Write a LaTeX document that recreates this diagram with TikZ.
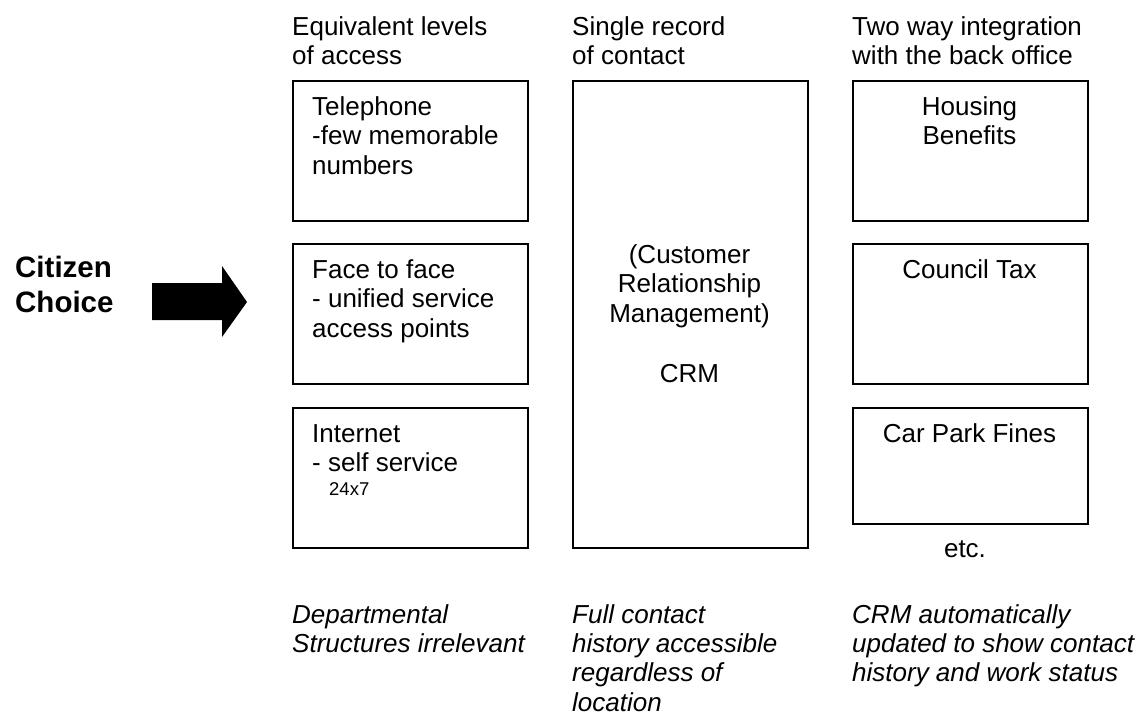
\documentclass[tikz,border=0pt]{standalone}
\usepackage{fontspec}
\setmainfont{Liberation Sans}
\begin{document}
\begin{tikzpicture}[x=1pt, y=-1pt,
  box/.style={draw=black, line width=1.5pt, inner sep=0pt, anchor=north west},
  head/.style={inner sep=0pt, anchor=base west, align=left,
    font=\fontsize{26}{29}\selectfont},
  label/.style={inner sep=0pt, anchor=base west, align=left,
    font=\fontsize{26}{29.5}\selectfont},
  clabel/.style={inner sep=0pt, anchor=base, align=center,
    font=\fontsize{26}{29.5}\selectfont},
  note/.style={inner sep=0pt, anchor=base west, align=left,
    font=\fontsize{26}{29.3}\selectfont\itshape},
  small/.style={inner sep=0pt, anchor=base west,
    font=\fontsize{18.5}{22}\selectfont},
  choice/.style={inner sep=0pt, anchor=base west, align=left,
    font=\fontsize{29.5}{35}\selectfont\bfseries}]
  \useasboundingbox (0,0) rectangle (1139,713);

  % column headings (positions give the baseline of the last line)
  \node[head] (h1) at (292,64) {Equivalent levels\\of access};
  \node[head] (h2) at (572,64) {Single record\\of contact};
  \node[head] (h3) at (852,64) {Two way integration\\with the back office};

  % access channels
  \node[box, minimum width=235pt, minimum height=140pt] (tel) at (292,80) {};
  \node[box, minimum width=235pt, minimum height=140pt] (face) at (292,243) {};
  \node[box, minimum width=235pt, minimum height=140pt] (net) at (292,407) {};
  \node[label] (telt) at (312,174) {Telephone\\-few memorable\\numbers};
  \node[label] (facet) at (312,337) {Face to face\\- unified service\\access points};
  \node[label] (nett) at (312,471.5) {Internet\\- self service};
  \node[small] (hours) at (329,495) {24x7};

  % single record
  \node[box, minimum width=235pt, minimum height=467pt] (crm) at (572,80) {};
  \node[clabel] (crmt) at (689.5,322) {(Customer\\Relationship\\Management)};
  \node[clabel] (crms) at (689.5,382) {CRM};

  % back office systems
  \node[box, minimum width=235pt, minimum height=140pt] (hb) at (852,80) {};
  \node[box, minimum width=235pt, minimum height=140pt] (ct) at (852,243) {};
  \node[box, minimum width=235pt, minimum height=116pt] (cp) at (852,407) {};
  \node[clabel] (hbt) at (969.5,144.5) {Housing\\Benefits};
  \node[clabel] (ctt) at (969.5,278) {Council Tax};
  \node[clabel] (cpt) at (969.5,442) {Car Park Fines};
  \node[clabel] (etc) at (965,557) {etc.};

  % citizen choice and its block arrow
  \node[choice] (cc) at (15,312) {Citizen\\Choice};
  \coordinate (a1) at (152,283);
  \coordinate (a2) at (222,283);
  \coordinate (a3) at (222,266);
  \coordinate (tip) at (247,302);
  \coordinate (a5) at (222,337);
  \coordinate (a6) at (222,320);
  \coordinate (a7) at (152,320);
  \fill[black] (a1) -- (a2) -- (a3) -- (tip) -- (a5) -- (a6) -- (a7) -- cycle;

  % notes
  \node[note] (n1) at (292,652.3) {Departmental\\Structures irrelevant};
  \node[note] (n2) at (572,711) {Full contact\\history accessible\\regardless of\\location};
  \node[note] (n3) at (852,681.6) {CRM automatically\\updated to show contact\\history and work status};
\end{tikzpicture}
\end{document}
